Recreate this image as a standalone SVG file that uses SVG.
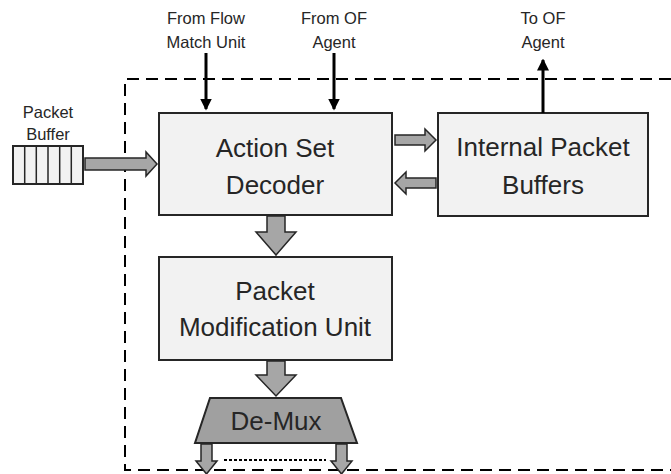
<svg xmlns="http://www.w3.org/2000/svg" width="671" height="474" viewBox="0 0 671 474">
<style>
.box{fill:#f2f2f2;stroke:#262626;stroke-width:2}
.big{font-family:"Liberation Sans",Arial,sans-serif;font-size:26px;fill:#262626;text-anchor:middle}
.sm{font-family:"Liberation Sans",Arial,sans-serif;font-size:16.5px;fill:#262626;text-anchor:middle}
.fat{fill:#a6a6a6;stroke:#262626;stroke-width:1.5;stroke-linejoin:miter}
.thin{stroke:#000;stroke-width:3;fill:none}
.dash{stroke:#000;stroke-width:2;fill:none;stroke-dasharray:12 7}
</style>
<defs>
<marker id="ah" markerWidth="4" markerHeight="4" refX="3.5" refY="2" orient="auto" markerUnits="strokeWidth">
<path d="M0,0 L4,2 L0,4 z" fill="#000"/>
</marker>
</defs>
<rect width="671" height="474" fill="#fff"/>
<g id="frame">
<path class="dash" d="M671,79 H125 V470 H671"/>
</g>
<g id="packet-buffer">
<rect x="13" y="146" width="70" height="38" fill="#f2f2f2" stroke="#262626" stroke-width="2"/>
<path d="M24.7,146 V184 M36.3,146 V184 M48,146 V184 M59.7,146 V184 M71.3,146 V184" stroke="#262626" stroke-width="1.5"/>
<text class="sm" x="48" y="118">Packet</text>
<text class="sm" x="48" y="140">Buffer</text>
</g>
<g id="action-set-decoder">
<rect class="box" x="159" y="113" width="233" height="102"/>
<text class="big" x="275" y="157">Action Set</text>
<text class="big" x="275" y="194">Decoder</text>
</g>
<g id="internal-packet-buffers">
<rect class="box" x="438" y="113" width="210" height="103"/>
<text class="big" x="543" y="156">Internal Packet</text>
<text class="big" x="543" y="194">Buffers</text>
</g>
<g id="packet-modification-unit">
<rect class="box" x="159" y="257" width="233" height="103"/>
<text class="big" x="275" y="300">Packet</text>
<text class="big" x="275" y="336">Modification Unit</text>
</g>
<g id="de-mux">
<polygon points="210,398 341,398 357,443 195,443" fill="#a0a0a0" stroke="#262626" stroke-width="2"/>
<text class="big" x="276" y="430">De-Mux</text>
</g>
<g id="labels">
<text class="sm" x="206" y="24">From Flow</text>
<text class="sm" x="206" y="48">Match Unit</text>
<text class="sm" x="334" y="24">From OF</text>
<text class="sm" x="334" y="48">Agent</text>
<text class="sm" x="543" y="24">To OF</text>
<text class="sm" x="543" y="48">Agent</text>
</g>
<g id="connectors">
<line class="thin" x1="206" y1="53" x2="206" y2="109" marker-end="url(#ah)"/>
<line class="thin" x1="334" y1="53" x2="334" y2="109" marker-end="url(#ah)"/>
<line class="thin" x1="543" y1="113" x2="543" y2="60" marker-end="url(#ah)"/>
<polygon class="fat" points="85,158 146,158 146,152 157,164 146,176 146,170 85,170"/>
<polygon class="fat" points="395,135 425,135 425,129 436,140 425,151 425,145 395,145"/>
<polygon class="fat" points="436,178 406,178 406,172 395,183 406,194 406,188 436,188"/>
<polygon class="fat" points="267,216 285,216 285,232 296,232 276,255 256,232 267,232"/>
<polygon class="fat" points="267,361 285,361 285,375 296,375 276,396 256,375 267,375"/>
<polygon class="fat" points="201,444 212,444 212,461 217,461 206.5,474 196,461 201,461"/>
<polygon class="fat" points="336,444 347,444 347,461 352,461 341.5,474 331,461 336,461"/>
<line x1="224" y1="460" x2="326" y2="460" stroke="#000" stroke-width="2" stroke-dasharray="3 2"/>
</g>
</svg>
